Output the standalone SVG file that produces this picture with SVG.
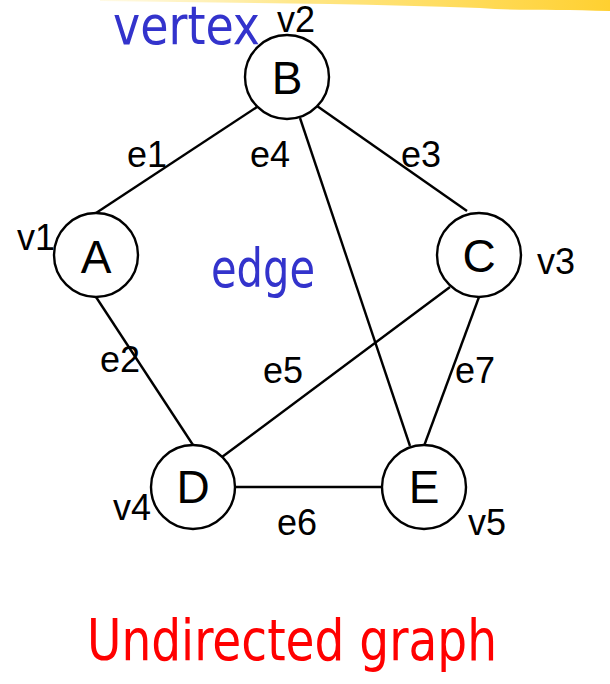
<svg xmlns="http://www.w3.org/2000/svg" width="610" height="684" viewBox="0 0 610 684">
<defs>
<linearGradient id="brush" x1="0" y1="0" x2="1" y2="0">
<stop offset="0" stop-color="#FFE680" stop-opacity="0.2"/>
<stop offset="0.4" stop-color="#FFE066" stop-opacity="0.8"/>
<stop offset="1" stop-color="#FFD030" stop-opacity="1"/>
</linearGradient>
<style>
.node circle{fill:#fff;stroke:#000;stroke-width:2.4}
.nl{font-family:"Liberation Sans",Arial,sans-serif;font-size:46px;fill:#000;text-anchor:middle}
.lb{font-family:"Liberation Sans",Arial,sans-serif;font-size:36px;fill:#000}
.edges line{stroke:#000;stroke-width:2.4}
.blue{font-family:"DejaVu Sans Condensed","DejaVu Sans",sans-serif;fill:#3333CC}
.red{font-family:"DejaVu Sans Condensed","DejaVu Sans",sans-serif;fill:#FF0000}
</style>
</defs>
<rect width="610" height="684" fill="#fff"/>
<path d="M100,0 L610,0 L610,11 C560,9 520,11 480,8 C430,6 380,5 330,4 C250,3 180,2 100,1 Z" fill="url(#brush)"/>
<g id="edges" class="edges">
<line x1="96" y1="213" x2="257" y2="107"/>
<line x1="96" y1="297" x2="193" y2="445"/>
<line x1="317" y1="106" x2="467" y2="211"/>
<line x1="300" y1="118" x2="410" y2="446"/>
<line x1="450" y1="287" x2="222" y2="457"/>
<line x1="234" y1="487" x2="382" y2="487"/>
<line x1="479" y1="297" x2="424" y2="446"/>
</g>
<g id="nodeA" class="node"><circle cx="96" cy="255" r="42"/><text class="nl" x="96" y="273">A</text></g>
<g id="nodeB" class="node"><circle cx="287" cy="77" r="42"/><text class="nl" x="287" y="94">B</text></g>
<g id="nodeC" class="node"><circle cx="479" cy="255" r="42"/><text class="nl" x="479" y="272">C</text></g>
<g id="nodeD" class="node"><circle cx="193" cy="487" r="42"/><text class="nl" x="193" y="503">D</text></g>
<g id="nodeE" class="node"><circle cx="424" cy="487" r="42"/><text class="nl" x="424" y="503">E</text></g>
<g id="labels">
<text class="lb" x="277" y="32">v2</text>
<text class="lb" x="17" y="250">v1</text>
<text class="lb" x="537" y="274">v3</text>
<text class="lb" x="113" y="520">v4</text>
<text class="lb" x="468" y="535">v5</text>
<text class="lb" x="127" y="167">e1</text>
<text class="lb" x="250" y="167">e4</text>
<text class="lb" x="401" y="167">e3</text>
<text class="lb" x="100" y="372">e2</text>
<text class="lb" x="263" y="383">e5</text>
<text class="lb" x="455" y="383">e7</text>
<text class="lb" x="277" y="535">e6</text>
<text class="blue" x="113" y="44" font-size="54" textLength="147" lengthAdjust="spacingAndGlyphs">vertex</text>
<text class="blue" x="211" y="287" font-size="54" textLength="104" lengthAdjust="spacingAndGlyphs">edge</text>
<text class="red" x="87" y="660" font-size="57" textLength="410" lengthAdjust="spacingAndGlyphs">Undirected graph</text>
</g>
</svg>
